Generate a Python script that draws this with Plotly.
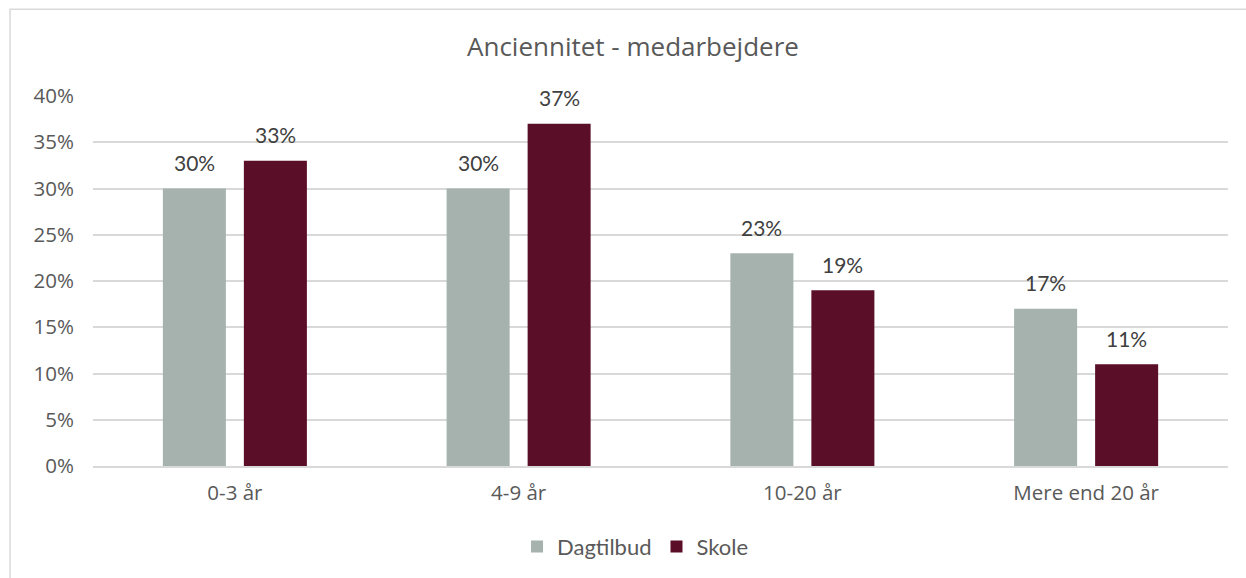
import plotly.graph_objects as go

categories = ["0-3 år", "4-9 år", "10-20 år", "Mere end 20 år"]
dagtilbud = [0.30, 0.30, 0.23, 0.17]
skole = [0.33, 0.37, 0.19, 0.11]
series_names = ["Dagtilbud", "Skole"]
colors = ["#A5B2AD", "#5A0E28"]
title_text = "Anciennitet - medarbejdere"

AXIS_FONT = "Open Sans, Liberation Sans, Arial, sans-serif"
LABEL_FONT = "Lato, Carlito, sans-serif"

fig = go.Figure()
for name, vals, col in zip(series_names, [dagtilbud, skole], colors):
    fig.add_trace(go.Bar(
        name=name, x=categories, y=vals, marker_color=col,
        marker_line_width=0, hoverinfo="skip",
    ))

# value labels above each bar (slot offset of the grouped bars)
slot_px = 81
for i, vals in enumerate([dagtilbud, skole]):
    shift = (i - 0.5) * slot_px
    for cat, v in zip(categories, vals):
        fig.add_annotation(x=cat, y=v, text=f"{round(v*100)}%", showarrow=False,
                           xshift=shift, yshift=26, yanchor="middle",
                           font=dict(family=LABEL_FONT, size=21, color="#404040"))

fig.update_layout(
    width=1246, height=578,
    margin=dict(l=93, r=18, t=96, b=111),
    paper_bgcolor="white", plot_bgcolor="white",
    barmode="group", bargap=0.429, bargroupgap=0.222,
    title=dict(text=title_text, x=0.508, xanchor="center", y=0.918, yanchor="middle",
               font=dict(family=AXIS_FONT, size=26, color="#595959")),
    font=dict(family=AXIS_FONT, color="#595959"),
    legend=dict(orientation="h", x=0.478, xanchor="center", y=-0.215, yanchor="middle",
                font=dict(family=LABEL_FONT, size=22, color="#595959"),
                itemwidth=30, traceorder="normal"),
    shapes=[dict(type="rect", xref="paper", yref="paper",
                 x0=-0.0731, x1=1.05, y0=-0.5, y1=1.2345,
                 line=dict(color="#D9D9D9", width=1.5), fillcolor="rgba(0,0,0,0)", layer="below")],
)
fig.update_yaxes(range=[0, 0.40], dtick=0.05, tickformat=".0%",
                 gridcolor="#D9D9D9", gridwidth=1.5, zeroline=False,
                 tickfont=dict(size=20.5, color="#595959"), ticklabelstandoff=18)
fig.update_xaxes(showline=True, linecolor="#D9D9D9", linewidth=1.5,
                 tickfont=dict(size=20.5, color="#595959"), ticklabelstandoff=8)

fig.write_html("out.html", config={"displayModeBar": False},
               post_script="document.body.style.margin='0';")
